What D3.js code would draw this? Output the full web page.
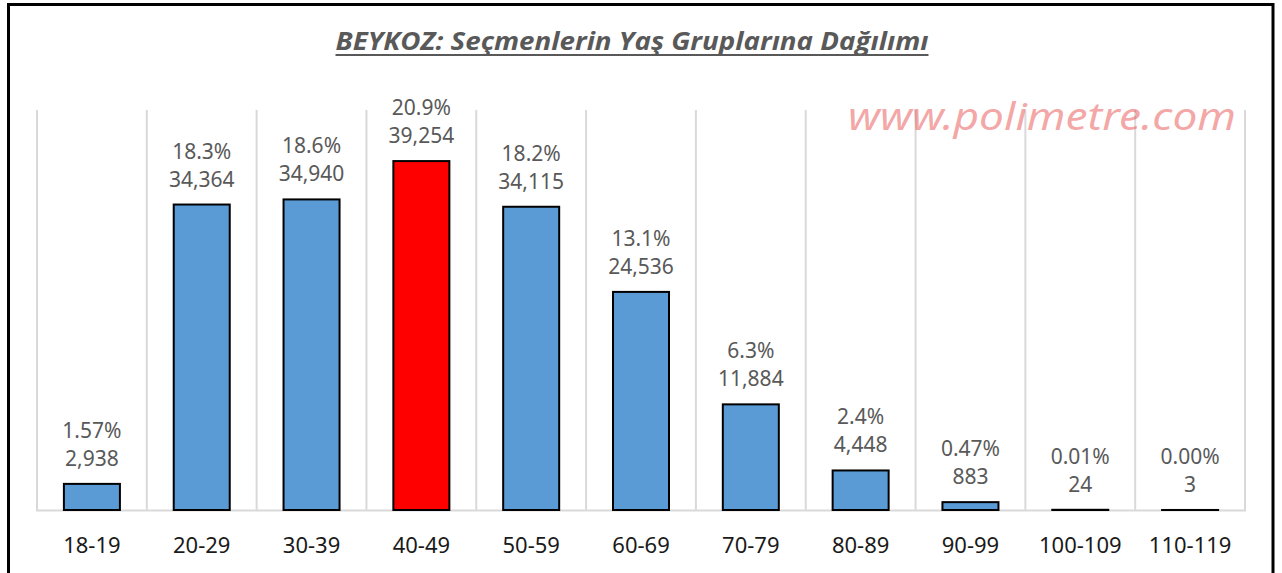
<!DOCTYPE html>
<html><head><meta charset="utf-8">
<script src="https://cdn.jsdelivr.net/npm/d3@7"></script>
<style>body{margin:0;background:#fff}svg{display:block}</style>
</head><body>
<svg id="c" width="1282" height="573"></svg>
<script>
const categories = ["18-19","20-29","30-39","40-49","50-59","60-69","70-79","80-89","90-99","100-109","110-119"];
const voters = [2938,34364,34940,39254,34115,24536,11884,4448,883,24,3];
const percentLabels = ["1.57%","18.3%","18.6%","20.9%","18.2%","13.1%","6.3%","2.4%","0.47%","0.01%","0.00%"];
const highlight = "40-49";
const title = "BEYKOZ: Seçmenlerin Yaş Gruplarına Dağılımı";
const watermark = "www.polimetre.com";

const svg = d3.select("#c");
svg.append("rect").attr("width",1282).attr("height",573).attr("fill","#fff");

const plot = {left:37, right:1245, top:110, bottom:510};
const x = d3.scaleBand().domain(categories).range([plot.left, plot.right]).paddingInner(0).paddingOuter(0);
const y = d3.scaleLinear().domain([0,45000]).range([plot.bottom, plot.top]);

// vertical gridlines at category boundaries
const bounds = categories.map(c => x(c)).concat([plot.right]);
svg.append("g").selectAll("line").data(bounds).join("line")
  .attr("x1",d=>d).attr("x2",d=>d).attr("y1",plot.top).attr("y2",plot.bottom)
  .attr("stroke","#d9d9d9").attr("stroke-width",2);

// watermark
svg.append("text").text(watermark)
  .attr("x",1042).attr("y",130).attr("text-anchor","middle")
  .attr("font-family","Noto Sans, sans-serif").attr("font-style","italic")
  .attr("font-size",38).attr("fill","rgba(232,80,80,0.5)")
  .attr("textLength",388).attr("lengthAdjust","spacingAndGlyphs");

// baseline
svg.append("line").attr("x1",plot.left-1).attr("x2",plot.right+1).attr("y1",plot.bottom+0.5).attr("y2",plot.bottom+0.5)
  .attr("stroke","#d9d9d9").attr("stroke-width",2);

const bw = x.bandwidth()*0.51;
svg.append("g").selectAll("rect").data(categories).join("rect")
  .attr("x",d=>x(d)+(x.bandwidth()-bw)/2)
  .attr("width",bw)
  .attr("y",(d,i)=>y(voters[i]))
  .attr("height",(d,i)=>plot.bottom - y(voters[i]))
  .attr("fill",d=>d===highlight?"#ff0000":"#5b9bd5")
  .attr("stroke","#000").attr("stroke-width",2);

// data labels
const lg = svg.append("g").attr("font-family","Noto Sans, sans-serif").attr("font-size",21).attr("fill","#595959").attr("text-anchor","middle");
categories.forEach((c,i)=>{
  const cx = x(c)+x.bandwidth()/2;
  const top = y(voters[i]);
  lg.append("text").attr("x",cx).attr("y",top-18).text(d3.format(",")(voters[i]));
  lg.append("text").attr("x",cx).attr("y",top-46).text(percentLabels[i]);
});

// category axis labels
const xAxis = d3.axisBottom(x).tickSize(0).tickPadding(0);
const ax = svg.append("g").attr("transform",`translate(0,${plot.bottom})`).call(xAxis);
ax.select(".domain").remove();
ax.selectAll("text").attr("font-family","Noto Sans, sans-serif").attr("font-size",22).attr("fill","#1a1a1a").attr("dy",null).attr("y",43);

// title
svg.append("text").text(title)
  .attr("x",632).attr("y",50).attr("text-anchor","middle")
  .attr("font-family","Open Sans, sans-serif").attr("font-style","italic").attr("font-weight","bold")
  .attr("font-size",25).attr("fill","#595959")
  .attr("textLength",593).attr("lengthAdjust","spacingAndGlyphs");
svg.append("line").attr("x1",632-296.5).attr("x2",632+296.5).attr("y1",55).attr("y2",55).attr("stroke","#595959").attr("stroke-width",2);

// border
svg.append("rect").attr("x",8.5).attr("y",4.5).attr("width",1264.5).attr("height",620)
  .attr("fill","none").attr("stroke","#000").attr("stroke-width",3);
</script>
</body></html>
